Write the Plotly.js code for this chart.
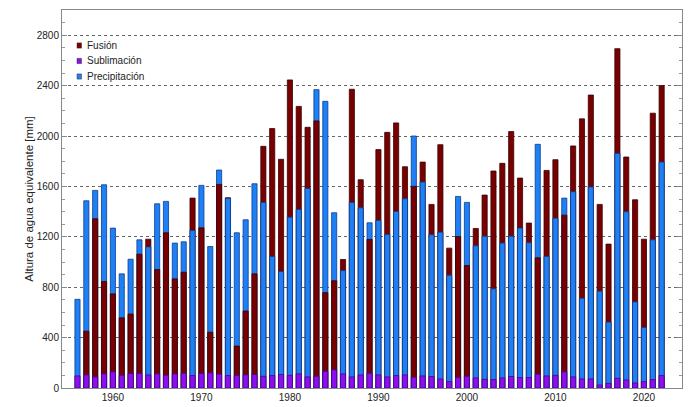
<!DOCTYPE html>
<html>
<head>
<meta charset="utf-8">
<script src="https://cdn.plot.ly/plotly-3.0.1.min.js"></script>
<style>html,body{margin:0;padding:0;background:#fff}#chart{width:693px;height:407px}</style>
</head>
<body>
<div id="chart"></div>
<script>
const years = [1956,1957,1958,1959,1960,1961,1962,1963,1964,1965,1966,1967,1968,1969,1970,
  1971,1972,1973,1974,1975,1976,1977,1978,1979,1980,1981,1982,1983,1984,1985,1986,1987,1988,1989,1990,
  1991,1992,1993,1994,1995,1996,1997,1998,1999,2000,2001,2002,2003,2004,2005,2006,2007,2008,2009,2010,
  2011,2012,2013,2014,2015,2016,2017,2018,2019,2020,2021,2022];

const fusion = [null,451,1343,845,747,557,587,1062,1181,940,1232,866,919,1507,1271,
  443,1616,1510,333,611,906,1918,2059,1815,2445,2235,2069,2120,757,851,1020,2371,1653,1179,1892,
  2029,2104,1756,1600,1793,1457,1931,1110,1202,972,1266,1531,1722,1783,2035,1666,1309,1033,1727,1812,
  1372,1921,2136,2325,1457,1142,2693,1833,1494,1181,2181,2400];

const precipitacion = [704,1486,1568,1613,1269,906,1022,1176,1120,1462,1481,1150,1160,1250,1608,
  1123,1730,1505,1232,1335,1621,1473,1044,924,1356,1417,1584,2368,2275,1391,932,1473,1430,1311,1330,
  1218,1401,1502,2000,1634,1216,1237,895,1520,1473,1128,1205,787,1150,1205,1269,1152,1934,1044,1348,
  1507,1558,712,1595,768,523,1862,1399,683,480,1176,1793];

const sublimacion = [96,104,88,112,128,101,115,115,104,112,101,112,117,99,115,
  120,109,99,99,104,107,93,99,107,101,112,88,93,131,144,112,88,104,117,104,
  88,99,104,85,96,91,72,51,83,93,80,69,67,80,91,83,83,109,96,101,
  128,88,72,72,24,37,77,64,40,51,67,99];

const yTicks = [0,400,800,1200,1600,2000,2400,2800];
const xTicks = [1960,1970,1980,1990,2000,2010,2020];
const legendNames = ['Fusión','Sublimación','Precipitación'];

const cFus = '#780000', cSub = '#8c0ff0', cPre = '#1f7ff5';
const lFus = '#3a0000', lSub = '#4a0090', lPre = '#0a3f90';
const legendColors = [cFus, cSub, cPre];

const precTall = precipitacion.map((v,i) => (fusion[i] === null || v >= fusion[i]) ? v : null);
const precShort = precipitacion.map((v,i) => (fusion[i] !== null && v < fusion[i]) ? v : null);

const bw = 0.58;
const traces = [
  {type:'bar', x:years, y:precTall, name:'Precipitación', showlegend:false,
   width:bw, marker:{color:cPre, line:{color:lPre, width:0.8}}, hoverinfo:'x+y'},
  {type:'bar', x:years, y:fusion, name:'Fusión', showlegend:false,
   width:bw, marker:{color:cFus, line:{color:lFus, width:0.8}}, hoverinfo:'x+y'},
  {type:'bar', x:years, y:precShort, name:'Precipitación', showlegend:false,
   width:bw, marker:{color:cPre, line:{color:lPre, width:0.8}}, hoverinfo:'x+y'},
  {type:'bar', x:years, y:sublimacion, name:'Sublimación', showlegend:false,
   width:bw, marker:{color:cSub, line:{color:lSub, width:0.8}}, hoverinfo:'x+y'}
];

// compact legend (square + label), placed in paper coordinates
const plotL = 62, plotW = 620, plotB = 388, plotH = 378;
const px = x => (x - plotL) / plotW;
const py = y => (plotB - y) / plotH;
const legendRowsY = [45.5, 61, 76.5];
const shapes = [], annotations = [];
legendNames.forEach((n, i) => {
  const cy = legendRowsY[i];
  shapes.push({type:'rect', xref:'paper', yref:'paper', x0:px(77), x1:px(81.5), y0:py(cy+2.6), y1:py(cy-2.6),
    fillcolor:legendColors[i], line:{color:'#333', width:0.5}});
  annotations.push({xref:'paper', yref:'paper', x:px(85), y:py(cy), xanchor:'left', yanchor:'middle',
    text:n, showarrow:false, font:{size:10, color:'#222'}});
});

const layout = {
  width:693, height:407,
  margin:{l:62, r:11, t:10, b:19},
  paper_bgcolor:'#fff', plot_bgcolor:'#fff',
  barmode:'overlay',
  font:{family:'Liberation Sans, Arial, sans-serif', size:10, color:'#222'},
  showlegend:false,
  shapes:shapes, annotations:annotations,
  xaxis:{range:[1954.25, 2024.3], tickvals:xTicks, ticktext:xTicks.map(String),
    showgrid:false, zeroline:false, showline:true, linecolor:'#888', linewidth:1, mirror:true,
    ticks:'', tickfont:{size:10, color:'#222'}},
  yaxis:{range:[0,3000], tickvals:yTicks, ticktext:yTicks.map(String),
    showgrid:true, gridcolor:'#666', griddash:'dot', gridwidth:1,
    zeroline:false, showline:true, linecolor:'#888', linewidth:1, mirror:'allticks',
    ticks:'inside', ticklen:5, tickcolor:'#888', tickfont:{size:10, color:'#222'},
    minor:{dtick:100, tick0:0, ticks:'inside', ticklen:3, tickcolor:'#999', showgrid:false},
    title:{text:'Altura de agua equivalente [mm]', font:{size:11.5, color:'#222'}, standoff:0}}
};

Plotly.newPlot('chart', traces, layout, {displayModeBar:false, staticPlot:true});
</script>
</body>
</html>
